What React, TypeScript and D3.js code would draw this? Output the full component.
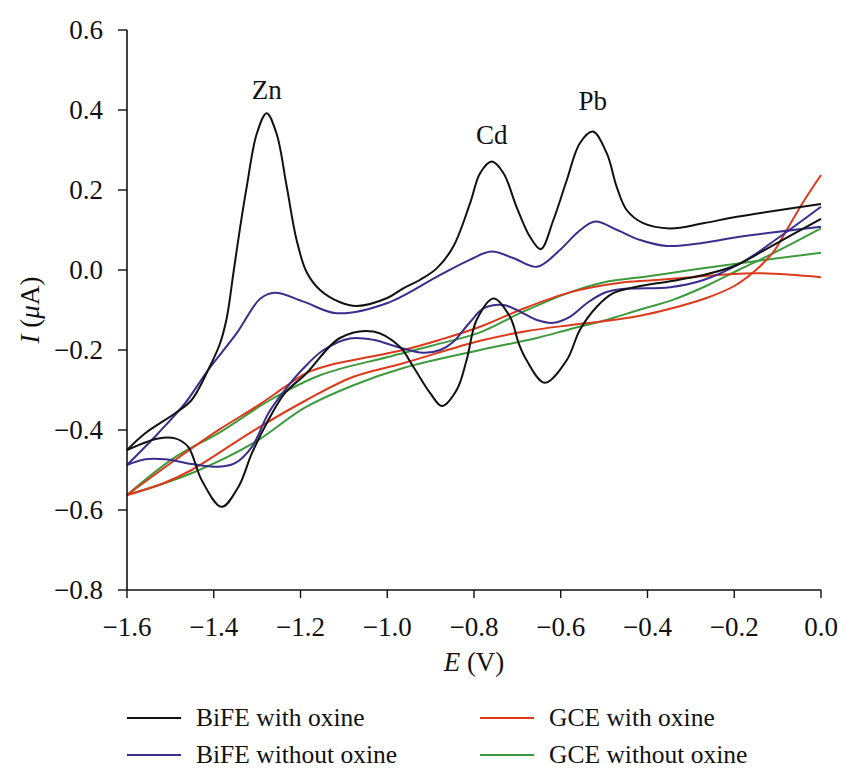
import React from "react";
import * as d3 from "d3";

// Potential (V) vs current (µA) pairs for each sweep branch
const bifeOxineForward: [number, number][] = [
  [-1.6, -0.45], [-1.558, -0.408], [-1.489, -0.358], [-1.451, -0.325], [-1.413, -0.25],
  [-1.386, -0.185], [-1.37, -0.12], [-1.355, -0.01], [-1.339, 0.108], [-1.324, 0.208],
  [-1.301, 0.34], [-1.278, 0.392], [-1.255, 0.34], [-1.232, 0.21], [-1.209, 0.075],
  [-1.186, -0.005], [-1.155, -0.05], [-1.11, -0.08], [-1.07, -0.09], [-1.0, -0.07],
  [-0.963, -0.046], [-0.925, -0.025], [-0.886, 0.004], [-0.848, 0.058], [-0.809, 0.167],
  [-0.786, 0.242], [-0.759, 0.271], [-0.732, 0.242], [-0.702, 0.158], [-0.671, 0.083],
  [-0.646, 0.052], [-0.617, 0.125], [-0.586, 0.225], [-0.556, 0.317], [-0.526, 0.346],
  [-0.494, 0.292], [-0.471, 0.208], [-0.448, 0.15], [-0.41, 0.117], [-0.348, 0.104],
  [-0.271, 0.117], [-0.194, 0.133], [0, 0.165],
];
const bifeOxineReverse: [number, number][] = [
  [0, 0.128], [-0.117, 0.058], [-0.194, 0.0125], [-0.271, -0.0125], [-0.348, -0.028],
  [-0.425, -0.042], [-0.479, -0.058], [-0.517, -0.092], [-0.556, -0.15], [-0.586, -0.225],
  [-0.637, -0.282], [-0.679, -0.225], [-0.697, -0.183], [-0.717, -0.117], [-0.755, -0.071],
  [-0.794, -0.125], [-0.817, -0.225], [-0.84, -0.3], [-0.874, -0.34], [-0.901, -0.308],
  [-0.94, -0.242], [-0.971, -0.192], [-1.032, -0.154], [-1.109, -0.17], [-1.186, -0.258],
  [-1.236, -0.308], [-1.274, -0.375], [-1.312, -0.458], [-1.343, -0.542], [-1.382, -0.592],
  [-1.428, -0.525], [-1.459, -0.442], [-1.489, -0.421], [-1.528, -0.421], [-1.6, -0.45],
];
const bifeForward: [number, number][] = [
  [-1.6, -0.4875], [-1.528, -0.408], [-1.466, -0.333], [-1.413, -0.25], [-1.347, -0.158],
  [-1.293, -0.072], [-1.259, -0.057], [-1.193, -0.079], [-1.117, -0.108], [-1.001, -0.083],
  [-0.886, -0.017], [-0.809, 0.026], [-0.76, 0.046], [-0.71, 0.03], [-0.655, 0.008],
  [-0.602, 0.05], [-0.56, 0.095], [-0.521, 0.121], [-0.47, 0.1], [-0.417, 0.075],
  [-0.355, 0.06], [-0.27, 0.068], [-0.187, 0.083], [0, 0.108],
];
const bifeReverse: [number, number][] = [
  [0, 0.158], [-0.095, 0.083], [-0.179, 0.021], [-0.271, -0.025], [-0.348, -0.043],
  [-0.425, -0.046], [-0.463, -0.048], [-0.502, -0.058], [-0.54, -0.083], [-0.579, -0.117],
  [-0.617, -0.132], [-0.655, -0.125], [-0.694, -0.104], [-0.732, -0.0875], [-0.778, -0.096],
  [-0.809, -0.13], [-0.848, -0.18], [-0.878, -0.2], [-0.917, -0.207], [-0.978, -0.192],
  [-1.03, -0.175], [-1.086, -0.171], [-1.147, -0.2], [-1.197, -0.25], [-1.236, -0.3],
  [-1.274, -0.358], [-1.312, -0.442], [-1.351, -0.483], [-1.389, -0.492], [-1.451, -0.485],
  [-1.512, -0.473], [-1.558, -0.473], [-1.6, -0.4875],
];
const gceOxineForward: [number, number][] = [
  [-1.6, -0.5625], [-1.489, -0.475], [-1.386, -0.398], [-1.297, -0.338], [-1.23, -0.288],
  [-1.186, -0.257], [-1.13, -0.237], [-1.078, -0.225], [-0.963, -0.2], [-0.88, -0.175],
  [-0.786, -0.142], [-0.694, -0.1], [-0.579, -0.056], [-0.463, -0.032], [-0.394, -0.026],
  [-0.3, -0.018], [-0.156, -0.008], [0, -0.018],
];
const gceOxineReverse: [number, number][] = [
  [0, 0.2375], [-0.041, 0.17], [-0.079, 0.1], [-0.11, 0.045], [-0.15, 0.0],
  [-0.2, -0.04], [-0.264, -0.07], [-0.348, -0.097], [-0.42, -0.115], [-0.502, -0.128],
  [-0.579, -0.138], [-0.68, -0.153], [-0.786, -0.177], [-0.963, -0.233], [-1.078, -0.267],
  [-1.186, -0.325], [-1.309, -0.402], [-1.451, -0.5], [-1.52, -0.535], [-1.6, -0.5625],
];
const gceForward: [number, number][] = [
  [-1.6, -0.5625], [-1.489, -0.468], [-1.386, -0.406], [-1.27, -0.325], [-1.155, -0.263],
  [-1.001, -0.218], [-0.9, -0.19], [-0.786, -0.156], [-0.694, -0.108], [-0.579, -0.056],
  [-0.502, -0.031], [-0.394, -0.015], [-0.3, 0.0], [-0.187, 0.017], [0, 0.043],
];
const gceReverse: [number, number][] = [
  [0, 0.104], [-0.11, 0.042], [-0.19, 0.0], [-0.265, -0.04], [-0.34, -0.074],
  [-0.42, -0.1], [-0.502, -0.127], [-0.579, -0.148], [-0.655, -0.17], [-0.786, -0.2],
  [-0.963, -0.245], [-1.078, -0.288], [-1.19, -0.344], [-1.309, -0.433], [-1.451, -0.508],
  [-1.6, -0.5625],
];

const xTicks = [-1.6, -1.4, -1.2, -1.0, -0.8, -0.6, -0.4, -0.2, 0.0];
const yTicks = [0.6, 0.4, 0.2, 0.0, -0.2, -0.4, -0.6, -0.8];

const peakLabels = ["Zn", "Cd", "Pb"];
const peakPositions: [number, number][] = [[-1.278, 0.392], [-0.759, 0.271], [-0.526, 0.346]];
const peakLabelGap = [14, 18, 22];

const seriesNames = ["BiFE with oxine", "BiFE without oxine", "GCE with oxine", "GCE without oxine"];
const seriesColors = ["#111111", "#3a2d8c", "#dd3a1c", "#3d9b3d"];
const seriesBranches = [
  [bifeOxineForward, bifeOxineReverse],
  [bifeForward, bifeReverse],
  [gceOxineForward, gceOxineReverse],
  [gceForward, gceReverse],
];

const W = 841;
const H = 770;
const margin = { left: 127, right: 20, top: 30, bottom: 180 };
const FONT = "'Liberation Serif', 'Times New Roman', serif";
const fmt = (v: number) => (v < 0 ? "\u2212" : "") + Math.abs(v).toFixed(1);

export default function App() {
  const x = d3.scaleLinear().domain([-1.6, 0]).range([margin.left, W - margin.right]);
  const y = d3.scaleLinear().domain([-0.8, 0.6]).range([H - margin.bottom, margin.top]);
  const line = d3
    .line<[number, number]>()
    .x((d) => x(d[0]))
    .y((d) => y(d[1]))
    .curve(d3.curveCatmullRom.alpha(0.5));

  const x0 = x(-1.6);
  const y0 = y(-0.8);
  const legendCols = [127, 480];
  const legendRows = [718, 755];
  // GCE traces underneath, BiFE on top
  const drawOrder = [3, 2, 1, 0];

  return (
    <svg
      width={W}
      height={H}
      style={{ position: "absolute", left: 0, top: 0, background: "#fff" }}
      fontFamily={FONT}
    >
      {drawOrder.map((si) =>
        seriesBranches[si].map((br, bi) => (
          <path
            key={`${si}-${bi}`}
            d={line(br) || ""}
            fill="none"
            stroke={seriesColors[si]}
            strokeWidth={2}
            strokeLinejoin="round"
          />
        ))
      )}

      {/* axes */}
      <line x1={x0} x2={x0} y1={y(0.6)} y2={y0} stroke="#111" strokeWidth={1.6} />
      <line x1={x0} x2={x(0)} y1={y0} y2={y0} stroke="#111" strokeWidth={1.6} />
      {yTicks.map((t) => (
        <g key={`y${t}`}>
          <line x1={x0 - 9} x2={x0} y1={y(t)} y2={y(t)} stroke="#111" strokeWidth={1.4} />
          <text x={x0 - 24} y={y(t)} dy="0.35em" textAnchor="end" fontSize={27} fill="#111">
            {fmt(t)}
          </text>
        </g>
      ))}
      {xTicks.map((t) => (
        <g key={`x${t}`}>
          <line x1={x(t)} x2={x(t)} y1={y0} y2={y0 + 8} stroke="#111" strokeWidth={1.4} />
          <text x={x(t)} y={y0 + 46} textAnchor="middle" fontSize={27} fill="#111">
            {fmt(t)}
          </text>
        </g>
      ))}

      {/* axis titles */}
      <text x={(x0 + x(0)) / 2} y={y0 + 81} textAnchor="middle" fontSize={27} fill="#111">
        <tspan fontStyle="italic">E</tspan> (V)
      </text>
      <text
        transform={`translate(39, ${(y(0.6) + y0) / 2}) rotate(-90)`}
        textAnchor="middle"
        fontSize={27}
        fill="#111"
      >
        <tspan fontStyle="italic">I</tspan> (<tspan fontStyle="italic">μ</tspan>A)
      </text>

      {/* peak annotations */}
      {peakLabels.map((lbl, i) => (
        <text
          key={lbl}
          x={x(peakPositions[i][0])}
          y={y(peakPositions[i][1]) - peakLabelGap[i]}
          textAnchor="middle"
          fontSize={27}
          fill="#111"
        >
          {lbl}
        </text>
      ))}

      {/* legend */}
      {seriesNames.map((name, i) => {
        const lx = legendCols[Math.floor(i / 2)];
        const ly = legendRows[i % 2];
        return (
          <g key={name}>
            <line x1={lx} x2={lx + 54} y1={ly} y2={ly} stroke={seriesColors[i]} strokeWidth={2} />
            <text x={lx + 69} y={ly} dy="0.33em" fontSize={25.5} fill="#111">
              {name}
            </text>
          </g>
        );
      })}
    </svg>
  );
}
